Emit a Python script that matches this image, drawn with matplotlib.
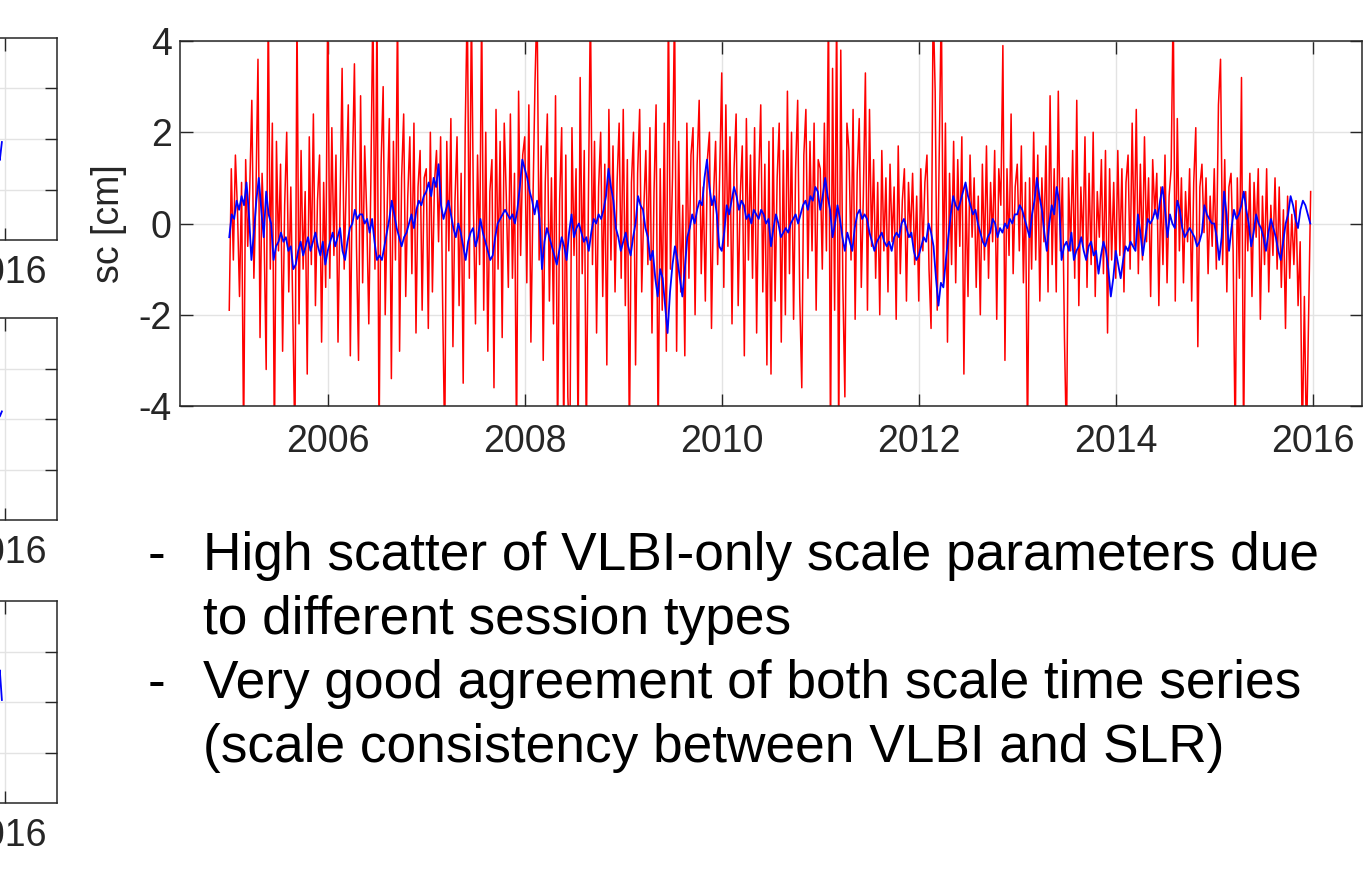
import matplotlib
matplotlib.use("Agg")
import matplotlib.pyplot as plt
import numpy as np

plt.rcParams['font.family'] = ['Liberation Sans', 'DejaVu Sans']
plt.rcParams['axes.unicode_minus'] = False

# VLBI-only scale [cm], one list per year (red)
vlbi_2005 = [-1.9, 1.2, -0.8, 1.5, 0.3, -1.6, 0.9, -4.8, 1.4, -0.5, 0.8, 2.7, -1.2, 0.6, 3.6, -2.5,
             1.1, -0.3, -3.2, 4.9, -1.0, 2.2, -5.0, 1.8, -0.6, 1.3, -2.8, 0.4, 2.0, -1.5, 0.8, -2.1,
             -4.9, 4.7, -2.2, 1.6, -1.0, 0.7, -3.3, 1.9, -0.9, 2.4, -1.8, 0.5, 1.5, -2.6, 0.9, -1.4]
vlbi_2006 = [4.9, -1.2, 2.1, -0.7, 1.5, -2.6, 0.4, 3.4, -1.0, 0.8, 2.6, -2.9, 1.1, 3.5, -0.5, -3.0,
             2.8, -1.3, 1.7, 0.2, -2.2, 0.9, 4.9, -1.0, 4.8, -4.9, 1.3, 3.0, -2.0, 0.4, 2.3, -3.4,
             1.8, -0.8, 4.8, -2.8, 1.0, 2.4, -1.6, 0.6, 1.9, -1.1, 2.2, -2.4, 0.8, 1.6, -1.9, 1.0]
vlbi_2007 = [1.2, -2.3, 2.0, -1.5, 0.9, 1.6, -0.4, 1.9, -1.8, -4.9, 1.8, -0.6, 2.3, -2.7, 0.5, 1.9,
             -1.8, 1.1, -3.5, 2.1, 4.9, -1.2, 4.8, 0.3, -2.2, 1.5, -0.9, 4.8, -1.9, 2.0, -2.8, 0.7,
             1.4, -3.6, 2.5, -1.0, 1.8, -2.5, 2.2, 0.6, -1.4, 2.4, -1.2, 1.1, -4.9, 2.9, -0.7, 1.5]
vlbi_2008 = [1.9, -1.3, 2.6, -2.6, 0.5, 3.1, 4.9, -0.8, 1.7, -3.0, 0.9, 2.4, -1.7, 1.0, -2.2, 2.8,
             -4.9, 0.5, 2.1, -4.9, 1.5, -3.8, -4.9, 2.1, -0.7, 1.2, -4.9, 3.2, -1.1, 1.6, -4.9, 0.4,
             4.9, -0.9, 1.8, -2.4, 0.8, 2.0, -1.6, 1.3, -3.1, 2.5, -0.8, 1.7, -1.5, 0.9, 2.2, -1.2]
vlbi_2009 = [2.5, -1.8, 1.4, -4.9, 0.9, 2.0, -3.1, 1.1, 2.5, -1.5, 0.3, 1.6, -0.9, 2.1, -2.4, 0.7,
             2.6, -4.9, 1.2, -1.9, 2.2, -2.8, 4.9, -1.0, 1.0, 4.9, -2.8, 1.8, -1.5, 0.4, -2.9, 2.2,
             -1.2, 1.5, 2.1, -2.0, 1.3, 2.7, -1.1, 0.8, -1.7, 1.4, 2.0, -2.3, 0.6, 1.8, -0.9, 1.1]
vlbi_2010 = [3.3, -1.4, 2.6, -0.5, 1.9, -2.2, 1.2, 2.4, -1.8, 0.6, 1.7, -2.9, 2.3, -0.8, 1.5, -1.2,
             2.1, -2.4, 0.9, 2.6, -1.5, 1.3, -3.1, 1.8, -3.3, 2.1, -1.7, 1.0, 2.2, -2.6, 1.6, -2.0,
             2.9, -1.1, 2.0, -2.1, 1.2, 2.7, -1.6, -3.6, 1.5, 2.5, -1.2, 1.8, -0.6, 2.2, -1.9, 1.4]
vlbi_2011 = [1.2, -1.0, 2.2, -0.6, 4.9, -4.9, 3.4, -1.9, 4.9, -4.9, 3.8, -1.3, -3.8, 2.2, 1.6, -0.8,
             2.5, -2.1, 1.1, 2.3, -1.4, 0.6, 3.3, -1.9, 2.5, -0.5, 1.4, -1.2, 0.9, -2.0, 1.6, -0.6,
             1.0, -1.5, 1.3, -0.4, 0.8, -2.1, 1.7, -1.1, 0.5, 1.2, -1.7, 0.9, -0.3, 1.1, -0.9, 0.6]
vlbi_2012 = [-1.7, 1.2, -0.6, 0.9, 1.5, -1.0, -2.3, 4.9, 2.9, -1.9, 1.6, 4.9, -1.3, 2.2, -2.6, 1.1,
             -0.9, 1.8, -1.3, 1.4, -0.5, 1.9, -3.3, 0.8, -1.6, 1.5, -0.3, 1.0, -1.4, 0.6, -2.0, 1.3,
             -0.8, 1.7, -1.2, 0.9, -0.4, 1.6, -2.1, 1.2, 0.4, 3.9, -3.0, 1.2, -0.7, 2.4, -1.1, 0.8]
vlbi_2013 = [1.3, -0.6, 1.7, -1.3, 0.9, -4.9, 1.0, -1.0, 2.0, -0.8, 1.5, -1.7, 1.0, -0.4, 1.7, -1.5,
             2.8, -0.9, 1.2, -1.5, 2.9, -0.6, 1.0, -2.5, -4.9, 1.0, -0.6, 1.6, -1.2, 2.7, -1.8, 0.8,
             -0.5, 1.9, -1.4, 1.1, -0.9, 2.0, -1.6, 0.7, -0.3, 1.4, -1.1, 1.6, -2.4, 1.2, -0.8, 0.9]
vlbi_2014 = [-1.2, 1.6, -0.7, 1.2, -1.5, 0.9, 1.5, -1.0, 2.2, -0.5, 2.5, -1.1, 1.3, -0.8, 1.9, -0.4,
             1.0, -1.6, 1.4, 0.2, 1.1, -1.8, 0.8, -0.9, 1.5, -1.3, 0.6, 1.2, 4.9, -1.7, 2.3, -0.6,
             1.0, -1.3, 0.7, -0.4, 1.2, -1.7, 0.9, 2.1, -2.7, 0.8, 1.3, -0.2, 1.0, -1.1, 0.6, -0.5]
vlbi_2015 = [1.2, -1.0, 2.6, 3.6, -0.9, 1.4, -1.5, 0.8, 1.1, -0.6, -4.9, 1.0, -1.2, 3.2, -4.9, 0.7,
             -0.6, 1.1, -1.6, 0.9, -0.3, 1.2, -2.1, 0.6, -0.9, 1.2, -1.5, 0.4, -0.7, 1.0, -1.0, 0.8,
             -1.4, 0.3, -2.3, 0.6, -1.2, 0.2, -0.9, 0.5, -1.8, -0.4, -4.9, -1.6, -4.9, -2.1, 0.7]

# combined (VLBI+SLR) scale [cm], one list per year (blue)
comb_2005 = [-0.3, 0.2, 0.1, 0.5, 0.3, 0.6, 0.4, 0.9, 0.2, -0.8, -0.2, 0.5, 1.0, 0.3, -0.3, 0.7,
             0.2, 0.0, -0.8, -0.5, -0.4, -0.2, -0.4, -0.3, -0.6, -0.5, -1.0, -0.9, -0.6, -0.4,
             -0.7, -0.5, -0.3, -0.6, -0.4, -0.2, -0.5, -0.7, -0.4, -0.9]
comb_2006 = [-0.6, -0.4, -0.2, -0.5, -0.3, -0.1, -0.6, -0.8, -0.4, -0.1, 0.0, 0.3, 0.1, 0.2, 0.2,
             0.0, 0.1, -0.2, 0.1, -0.4, -0.8, -0.7, -0.8, -0.5, -0.2, 0.1, 0.5, 0.2, -0.1, -0.3,
             -0.5, -0.3, -0.2, 0.0, 0.2, -0.1, 0.3, 0.5, 0.4, 0.6]
comb_2007 = [0.7, 0.9, 0.6, 1.0, 0.8, 1.3, 0.4, 0.1, 0.3, 0.5, 0.2, -0.1, -0.3, 0.0, -0.2, -0.5,
             -0.8, -0.4, -0.2, -0.1, -0.5, -0.3, 0.1, -0.2, -0.4, -0.6, -0.8, -0.7, -0.3, 0.0,
             0.1, 0.2, 0.3, 0.2, 0.1, 0.2, 0.0, 0.3, 0.8, 1.4]
comb_2008 = [1.2, 1.0, 0.7, 0.5, 0.2, 0.5, 0.1, -1.0, -0.4, -0.1, -0.3, -0.5, -0.7, -0.9, -0.6,
             -0.3, -0.5, -0.8, -0.2, 0.2, -0.3, -0.1, 0.0, -0.2, -0.4, -0.3, -0.6, -0.2, 0.1, 0.0,
             0.2, 0.1, 0.3, 0.6, 1.2, 0.8, 0.5, -0.1, -0.3, -0.6]
comb_2009 = [-0.4, -0.2, -0.5, -0.7, -0.3, 0.0, 0.6, 0.4, 0.3, -0.1, -0.3, -0.8, -0.6, -1.2, -1.6,
             -1.0, -1.2, -1.8, -2.4, -1.5, -0.9, -0.5, -0.8, -1.2, -1.6, -1.0, -0.3, -0.1, 0.2,
             0.0, 0.3, 0.5, 0.4, 1.0, 1.4, 0.8, 0.4, 0.6, 0.2, -0.5]
comb_2010 = [-0.6, -0.2, 0.4, 0.2, 0.5, 0.8, 0.6, 0.3, 0.5, 0.4, 0.1, 0.2, 0.0, 0.3, 0.2, 0.1,
             0.3, 0.2, 0.0, 0.1, -0.5, -0.1, 0.2, 0.0, -0.3, -0.2, -0.1, -0.2, 0.0, 0.1, 0.2, 0.0,
             0.2, 0.4, 0.5, 0.3, 0.6, 0.5, 0.8, 0.7]
comb_2011 = [0.3, 0.6, 1.0, 0.6, 0.3, -0.3, 0.0, 0.4, 0.1, -0.3, -0.6, -0.2, -0.4, -0.6, -0.1,
             0.2, 0.3, 0.1, 0.2, 0.1, -0.2, -0.4, -0.6, -0.4, -0.3, -0.2, -0.4, -0.5, -0.4, -0.6,
             -0.3, -0.2, -0.3, 0.0, 0.1, -0.1, -0.3, -0.2, -0.6, -0.8]
comb_2012 = [-0.7, -0.5, -0.3, -0.4, 0.0, -0.2, -0.5, -1.2, -1.8, -1.3, -1.4, -0.8, -0.3, 0.2,
             0.6, 0.4, 0.3, 0.5, 0.7, 0.9, 0.6, 0.4, 0.2, 0.3, 0.0, -0.2, -0.4, -0.5, -0.3, -0.2,
             0.1, 0.0, -0.3, -0.1, -0.2, 0.0, -0.1, 0.1, 0.0, 0.2]
comb_2013 = [0.2, 0.4, 0.3, 0.1, -0.1, -0.3, 0.2, 0.5, 1.0, 0.6, 0.3, -0.2, -0.6, 0.0, 0.4, 0.2,
             0.8, 0.5, -0.8, -0.5, -0.4, -0.6, -0.2, -0.8, -0.6, -0.5, -0.3, -0.6, -0.8, -0.5,
             -0.4, -0.7, -0.6, -1.1, -0.7, -0.4, -0.6, -1.0, -1.6, -1.2]
comb_2014 = [-0.6, -0.9, -1.2, -0.8, -0.5, -0.6, -0.4, -0.5, -0.6, 0.2, -0.2, -0.7, -0.3, 0.1,
             0.0, 0.1, 0.3, 0.1, 0.5, 0.8, 0.3, -0.3, 0.2, 0.0, -0.1, 0.5, 0.3, -0.1, -0.3, -0.2,
             -0.1, -0.2, -0.3, -0.5, -0.4, -0.2, 0.4, 0.2, 0.1, 0.0]
comb_2015 = [0.0, -0.3, -0.8, -0.3, 0.7, 0.2, -0.6, -0.1, 0.3, 0.1, 0.2, 0.4, 0.7, 0.3, 0.0,
             -0.5, -0.2, 0.2, 0.0, -0.1, -0.3, -0.6, -0.2, 0.1, -0.1, -0.3, -0.6, -0.8, -0.4, 0.0,
             0.2, 0.6, 0.4, 0.1, -0.1, 0.3, 0.5, 0.4, 0.2, 0.0]

years = list(range(2005, 2016))
vlbi_years = [vlbi_2005, vlbi_2006, vlbi_2007, vlbi_2008, vlbi_2009, vlbi_2010,
              vlbi_2011, vlbi_2012, vlbi_2013, vlbi_2014, vlbi_2015]
comb_years = [comb_2005, comb_2006, comb_2007, comb_2008, comb_2009, comb_2010,
              comb_2011, comb_2012, comb_2013, comb_2014, comb_2015]

# tail ends of the cut-off panels on the left (blue)
side_t = [2015.91, 2015.93, 2015.95, 2015.97]
side_tx = [0.3, -0.2, -0.42, -0.06]
side_ty = [-0.2, 0.3, 0.05, 0.15]
side_tz = [-0.3, 0.2, 0.63, 0.04]

bullets = ['High scatter of VLBI-only scale parameters due',
           'to different session types',
           'Very good agreement of both scale time series',
           '(scale consistency between VLBI and SLR)']


def spread(year_lists):
    t, v = [], []
    for y, vals in zip(years, year_lists):
        n = len(vals)
        t.extend(y + np.arange(n) / n)
        v.extend(vals)
    return np.array(t), np.array(v)


W, H = 1367, 885
fig = plt.figure(figsize=(W / 100, H / 100), dpi=100)

dark = '#262626'


def style(ax):
    for s in ax.spines.values():
        s.set_color(dark)
        s.set_linewidth(1.1)
    ax.tick_params(direction='in', length=9, width=1, colors=dark,
                   top=True, right=True, labelsize=27)
    ax.grid(True, color='#e3e3e3', linewidth=1)
    ax.set_axisbelow(True)


# main axes
ax = fig.add_axes([180 / W, 1 - 406 / H, 1182 / W, 365 / H])
t_v, v_v = spread(vlbi_years)
t_c, v_c = spread(comb_years)
ax.plot(t_v, v_v, color='#ff0000', linewidth=1.1)
ax.plot(t_c, v_c, color='#0000ff', linewidth=1.3)
ax.set_xlim(2004.5, 2016.5)
ax.set_ylim(-4, 4)
ax.set_xticks([2006, 2008, 2010, 2012, 2014, 2016])
ax.set_yticks([-4, -2, 0, 2, 4])
style(ax)
ax.tick_params(axis='x', pad=13)
ax.tick_params(axis='y', pad=6)
ax.set_ylabel('sc [cm]', fontsize=27, color=dark, labelpad=8)

# cut-off panels at the left edge
for top, vals in zip([38, 318, 601], [side_tx, side_ty, side_tz]):
    sa = fig.add_axes([(57 - 1248) / W, 1 - (top + 202) / H, 1248 / W, 202 / H])
    sa.plot(side_t, vals, color='#0000ff', linewidth=1.3)
    sa.set_xlim(2004.5, 2016.5)
    sa.set_ylim(-2, 2)
    sa.set_xticks([2016])
    sa.set_yticks([-1, 0, 1])
    style(sa)
    sa.tick_params(axis='x', pad=11)
    sa.tick_params(axis='y', labelleft=False)

# bullet text
for i, line in enumerate(bullets):
    yb = 570 + 64 * i
    if i in (0, 2):
        fig.text(148 / W, 1 - yb / H, '-', fontsize=38.3, va='baseline')
    fig.text(203 / W, 1 - yb / H, line, fontsize=38.3, va='baseline')

fig.savefig('out.png', dpi=100)
